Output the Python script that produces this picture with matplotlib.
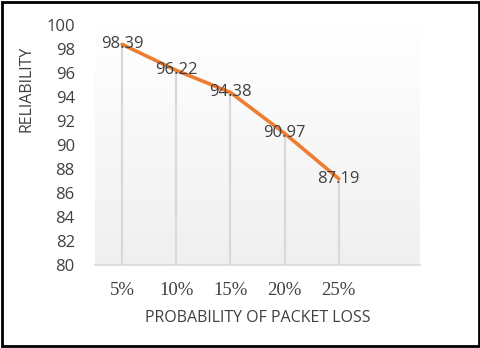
import numpy as np
import matplotlib
matplotlib.use("Agg")
import matplotlib.pyplot as plt
from matplotlib.patches import Rectangle

categories = ["5%", "10%", "15%", "20%", "25%"]
reliability = [98.39, 96.22, 94.38, 90.97, 87.19]
y_ticks = [80, 82, 84, 86, 88, 90, 92, 94, 96, 98, 100]

fig = plt.figure(figsize=(4.81, 3.48), dpi=100)
ax = fig.add_axes([95 / 481, 1 - 265 / 348, 325 / 481, 240 / 348])

x = np.arange(len(categories))

# background gradient (white top -> light gray bottom)
t = np.linspace(0.0, 1.0, 256).reshape(-1, 1, 1)
top = np.array([1.0, 1.0, 1.0])
bottom = np.array([0.94, 0.94, 0.94])
grad = bottom * (1 - t) + top * t
ax.imshow(grad, extent=[-0.5, 5.5, 80, 100], aspect="auto",
          origin="lower", zorder=0)

ax.vlines(x, 80, reliability, colors="#d9d9d9", linewidth=1.6, zorder=1)
ax.plot(x, reliability, color="#ed7d31", linewidth=2.6, zorder=3,
        solid_capstyle="round")
for xi, v in zip(x, reliability):
    ax.text(xi, v, f"{v:.2f}", ha="center", va="center", fontsize=12,
            color="#404040", family="Open Sans", zorder=4)

ax.set_xlim(-0.5, 5.5)
ax.set_ylim(80, 100)
ax.set_yticks(y_ticks)
ax.set_yticklabels([str(t) for t in y_ticks], family="Open Sans",
                   fontsize=12, color="#404040")
ax.set_xticks(x)
ax.set_xticklabels(categories, family="Liberation Serif", fontsize=13.5,
                   color="#404040")
ax.tick_params(axis="both", length=0)
ax.tick_params(axis="x", pad=12)
ax.tick_params(axis="y", pad=14.5)
for s in ["top", "right", "left"]:
    ax.spines[s].set_visible(False)
ax.spines["bottom"].set_color("#d9d9d9")
ax.spines["bottom"].set_linewidth(1.2)

ax.set_xlabel("PROBABILITY OF PACKET LOSS", family="Open Sans", fontsize=11.5,
              color="#404040")
ax.xaxis.set_label_coords(0.5, -(318 - 265) / 240)
ax.set_ylabel("RELIABILITY", family="Open Sans", fontsize=11.5,
              color="#404040")
ax.yaxis.set_label_coords(-(95 - 27) / 325, (265 - 89) / 240)
ax.xaxis.label.set_va("center")
ax.yaxis.label.set_va("center")

fig.patches.append(Rectangle((0.004, 0.006), 0.992, 0.988,
                             transform=fig.transFigure, fill=False,
                             edgecolor="black", linewidth=2))

fig.savefig("out.png", dpi=100)
